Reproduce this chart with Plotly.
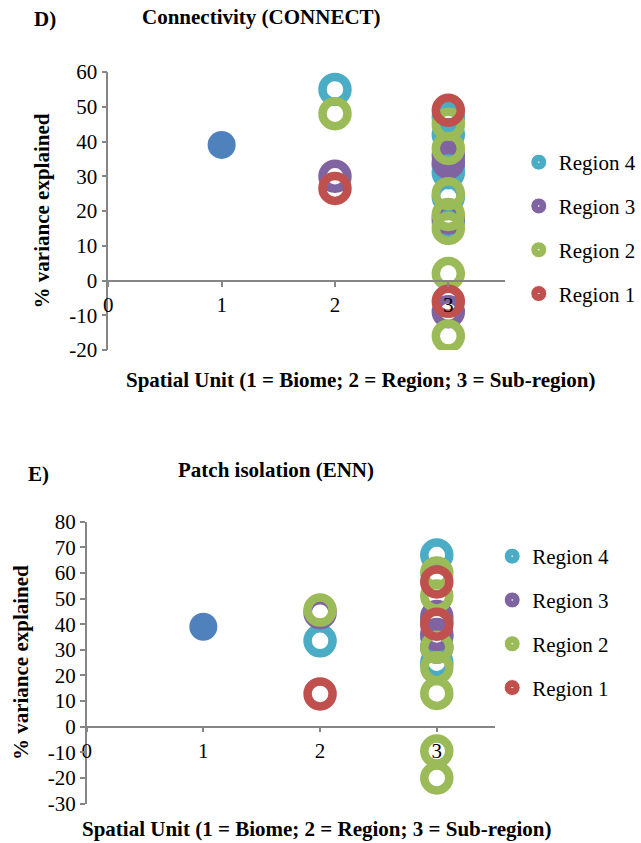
import plotly.graph_objects as go

# ---------------- data ----------------
regions = ["Region 4", "Region 3", "Region 2", "Region 1"]
region_colors = ["#4BACC6", "#8064A2", "#9BBB59", "#C0504D"]
biome_color = "#4F81BD"

# D) Connectivity (CONNECT)
d_biome_x = [1]
d_biome_y = [39]
d_r4_x = [2, 3, 3, 3, 3, 3, 3]
d_r4_y = [55, 47, 42, 33, 31, 24, 17]
d_r3_x = [2, 3, 3, 3, 3]
d_r3_y = [30, 36, 34, 18, -9]
d_r2_x = [2, 3, 3, 3, 3, 3, 3, 3]
d_r2_y = [48, 45, 38, 25, 19, 15, 2, -16]
d_r1_x = [2, 3, 3]
d_r1_y = [26.5, 49, -6]

# E) Patch isolation (ENN)
e_biome_x = [1]
e_biome_y = [39]
e_r4_x = [2, 3, 3, 3, 3]
e_r4_y = [33.5, 67, 41, 35, 25]
e_r3_x = [2, 3, 3, 3]
e_r3_y = [44.5, 43, 36, 31]
e_r2_x = [2, 3, 3, 3, 3, 3, 3, 3]
e_r2_y = [45.5, 60, 51, 31, 23, 13, -9.5, -20]
e_r1_x = [2, 3, 3]
e_r1_y = [12.8, 56.5, 40]

x_ticks = [0, 1, 2, 3]
x_ticktext = ["0", "1", "2", "3"]
d_yticks = [-20, -10, 0, 10, 20, 30, 40, 50, 60]
d_yticktext = ["-20", "-10", "0", "10", "20", "30", "40", "50", "60"]
e_yticks = [-30, -20, -10, 0, 10, 20, 30, 40, 50, 60, 70, 80]
e_yticktext = ["-30", "-20", "-10", "0", "10", "20", "30", "40", "50", "60", "70", "80"]

d_title = "Connectivity (CONNECT)"
e_title = "Patch isolation (ENN)"
x_title = "Spatial Unit (1 = Biome; 2 = Region; 3 = Sub-region)"
y_title = "% variance explained"

# ---------------- layout helpers ----------------
W, H = 641, 843
FONT = "Liberation Serif"
AXC = "#868686"

def px_x(p):
    return p / W

def px_y(p):
    return (H - p) / H

fig = go.Figure()

def add_panel(sfx, leg, bx, by, series):
    fig.add_trace(go.Scatter(
        x=bx, y=by, mode="markers", showlegend=False,
        marker=dict(symbol="circle", size=28, color=biome_color),
        xaxis="x" + sfx, yaxis="y" + sfx, hoverinfo="skip"))
    for (name, col, xs, ys) in series:
        fig.add_trace(go.Scatter(
            x=xs, y=ys, mode="markers", name=name, showlegend=False,
            marker=dict(symbol="circle-open", size=25, color=col,
                        line=dict(width=8.5, color=col)),
            xaxis="x" + sfx, yaxis="y" + sfx))
    # legend entries (filled disc with a small white centre, as in the original)
    for (name, col, xs, ys) in series:
        fig.add_trace(go.Scatter(
            x=[None], y=[None], mode="markers", name=name, legend=leg,
            legendgroup=leg + name,
            marker=dict(symbol="circle-dot", size=16, color=col,
                        line=dict(width=1, color="white")),
            xaxis="x" + sfx, yaxis="y" + sfx))

add_panel("", "legend", d_biome_x, d_biome_y, [
    (regions[0], region_colors[0], d_r4_x, d_r4_y),
    (regions[1], region_colors[1], d_r3_x, d_r3_y),
    (regions[2], region_colors[2], d_r2_x, d_r2_y),
    (regions[3], region_colors[3], d_r1_x, d_r1_y),
])
add_panel("2", "legend2", e_biome_x, e_biome_y, [
    (regions[0], region_colors[0], e_r4_x, e_r4_y),
    (regions[1], region_colors[1], e_r3_x, e_r3_y),
    (regions[2], region_colors[2], e_r2_x, e_r2_y),
    (regions[3], region_colors[3], e_r1_x, e_r1_y),
])

tickfont = dict(family=FONT, size=21, color="black")
titlefont = dict(family=FONT, size=21, color="black", weight="bold")

def xaxis(dom, pos):
    return dict(domain=dom, range=[0, 3.5], anchor="free", position=pos,
                tickmode="array", tickvals=x_ticks, ticktext=x_ticktext,
                showline=True, linecolor=AXC, linewidth=1.5,
                ticks="outside", ticklen=5, tickcolor=AXC, tickwidth=1.5,
                showgrid=False, zeroline=False, tickfont=tickfont,
                automargin=False, fixedrange=True)

def yaxis(dom, rng, tv, tt, anchor, standoff):
    return dict(domain=dom, range=rng, anchor=anchor,
                tickmode="array", tickvals=tv, ticktext=tt,
                showline=True, linecolor=AXC, linewidth=1.5,
                ticks="outside", ticklen=5, tickcolor=AXC, tickwidth=1.5,
                showgrid=False, zeroline=False, tickfont=tickfont,
                title=dict(text=y_title, font=titlefont, standoff=standoff),
                automargin=False, fixedrange=True)

fig.update_layout(
    width=W, height=H,
    margin=dict(l=0, r=0, t=0, b=0),
    paper_bgcolor="white", plot_bgcolor="white",
    font=dict(family=FONT, color="black"),
    xaxis=xaxis([px_x(110), px_x(513)], px_y(281)),
    yaxis=yaxis([px_y(350), px_y(72)], [-20, 60], d_yticks, d_yticktext, "x", 14),
    xaxis2=xaxis([px_x(88), px_x(503)], px_y(726.7)),
    yaxis2=yaxis([px_y(803.6), px_y(521.7)], [-30, 80], e_yticks, e_yticktext, "x2", 13),
    legend=dict(x=px_x(527), y=px_y(142), xanchor="left", yanchor="top",
                font=dict(family=FONT, size=21, color="black"),
                tracegroupgap=13.5, itemsizing="trace", bgcolor="rgba(0,0,0,0)"),
    legend2=dict(x=px_x(500), y=px_y(536), xanchor="left", yanchor="top",
                 font=dict(family=FONT, size=21, color="black"),
                 tracegroupgap=13.5, itemsizing="trace", bgcolor="rgba(0,0,0,0)"),
    annotations=[
        dict(text=d_title, x=px_x(266), y=px_y(17), xref="paper", yref="paper",
             showarrow=False, font=titlefont, xanchor="center", yanchor="middle"),
        dict(text="D)", x=px_x(46), y=px_y(19), xref="paper", yref="paper",
             showarrow=False, font=titlefont, xanchor="center", yanchor="middle"),
        dict(text=x_title, x=px_x(367), y=px_y(380), xref="paper", yref="paper",
             showarrow=False, font=titlefont, xanchor="center", yanchor="middle"),
        dict(text=e_title, x=px_x(280), y=px_y(470), xref="paper", yref="paper",
             showarrow=False, font=titlefont, xanchor="center", yanchor="middle"),
        dict(text="E)", x=px_x(39), y=px_y(474), xref="paper", yref="paper",
             showarrow=False, font=titlefont, xanchor="center", yanchor="middle"),
        dict(text=x_title, x=px_x(322), y=px_y(829), xref="paper", yref="paper",
             showarrow=False, font=titlefont, xanchor="center", yanchor="middle"),
    ],
)

fig.write_html("out.html")
